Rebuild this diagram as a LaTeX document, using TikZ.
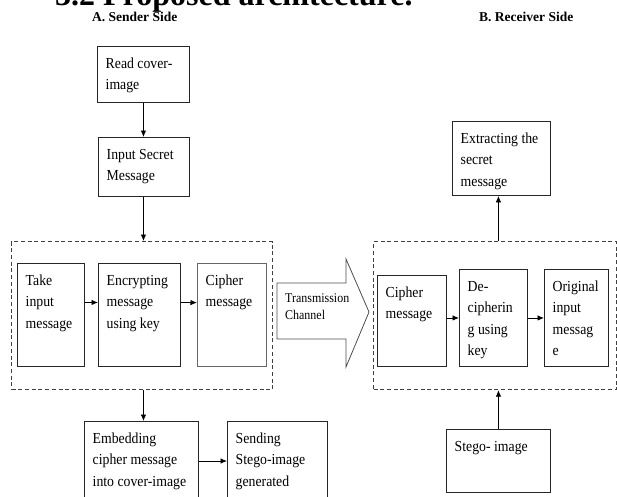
\documentclass[tikz,border=0pt]{standalone}
\usepackage{fontspec}
\setmainfont{Liberation Serif}
\newfontfamily\bodyfont{Liberation Serif}[FakeStretch=0.9]
\usetikzlibrary{arrows.meta,calc}
\tikzset{
  boxframe/.style={draw=black!85, line width=0.9pt, inner sep=0pt, anchor=north west},
  dashframe/.style={draw=black!75, line width=1.2pt, dash pattern=on 4pt off 2.7pt, inner sep=0pt, anchor=north west},
  boxtext/.style={anchor=north west, inner sep=0pt, align=left, font=\bodyfont\fontsize{15.3}{21.5}\selectfont},
  arr/.style={draw=black, line width=0.8pt, -{Latex[length=6.5pt,width=5.5pt]}},
  header/.style={anchor=base west, inner sep=0pt, font=\bfseries\fontsize{13.5}{16}\selectfont}
}
\newcommand\mybox[7]{%
  \node[#7, minimum width=#4pt-#2pt, minimum height=#5pt-#3pt] (#1) at (#2,#3) {};
  \node[boxtext] (#1-t) at ([shift={(8.5pt,-7pt)}]#1.north west) {\strut #6};
}
\begin{document}
\begin{tikzpicture}[x=1pt,y=-1pt]
\useasboundingbox (0,0) rectangle (617,496);
% titles
\node[anchor=base west, inner sep=0pt, font=\bfseries\fontsize{32}{36}\selectfont] (title) at (55,5) {3.2 Proposed architecture.};
\node[header] (hA) at (92,21) {A. Sender Side};
\node[header] (hB) at (479,21) {B. Receiver Side};
% sender side
\mybox{read}{97}{46}{189}{102}{Read cover-\\image}{boxframe}
\mybox{input}{98}{137}{189}{196}{Input Secret\\Message}{boxframe}
\node[dashframe, minimum width=261pt, minimum height=148pt] (sendbox) at (11,241) {};
\mybox{take}{17}{263}{84}{366}{Take\\input\\message}{boxframe}
\mybox{enc}{98}{263}{180}{366}{Encrypting\\message\\using key}{boxframe}
\mybox{cipher}{197}{263}{266}{366}{Cipher\\message}{boxframe, draw=black!60, line width=1.2pt}
\mybox{emb}{84}{421}{198}{505}{Embedding\\cipher message\\into cover-image}{boxframe}
\mybox{send}{227}{421}{327}{505}{Sending\\Stego-image\\generated}{boxframe}
% receiver side
\node[dashframe, minimum width=243pt, minimum height=148pt] (recvbox) at (373,241) {};
\mybox{cipherr}{377}{275}{446}{366}{Cipher\\message}{boxframe}
\mybox{deciph}{459}{269}{527}{366}{De-\\cipherin\\g using\\key}{boxframe}
\mybox{orig}{544}{269}{608}{366}{Original\\input\\messag\\e}{boxframe}
\mybox{extract}{452}{121}{550}{195}{Extracting the\\secret\\message}{boxframe}
\mybox{stego}{446}{429}{550}{492}{Stego- image}{boxframe}
% transmission channel arrow
\coordinate (tA) at (277,283);
\coordinate (tTip) at (369,312);
\draw[draw=black!70, line width=0.8pt] (tA) -- (346,283) -- (346,259) -- (tTip) -- (346,367) -- (346,339) -- (277,339) -- cycle;
\node[anchor=north west, inner sep=0pt, align=left, font=\bodyfont\fontsize{13.3}{17.5}\selectfont] (trans) at (285,290) {\strut Transmission\\Channel};
% connectors
\draw[arr] (read.south) -- (read.south |- input.north);
\draw[arr] (read.south |- input.south) -- (read.south |- sendbox.north);
\draw[arr] ([yshift=12.5pt]take.east) -- ([yshift=12.5pt]enc.west);
\draw[arr] ([yshift=12.5pt]enc.east) -- ([yshift=12.5pt]cipher.west);
\draw[arr] (read.south |- sendbox.south) -- (read.south |- emb.north);
\draw[arr] ([yshift=-40pt]emb.north east) -- ([yshift=-40pt]send.north west);
\draw[arr] (cipherr.east |- deciph.west) -- (deciph.west);
\draw[arr] (deciph.east) -- (orig.west);
\draw[arr] (stego.north) -- (stego.north |- recvbox.south);
\draw[arr] (stego.north |- recvbox.north) -- (stego.north |- extract.south);
\end{tikzpicture}
\end{document}
